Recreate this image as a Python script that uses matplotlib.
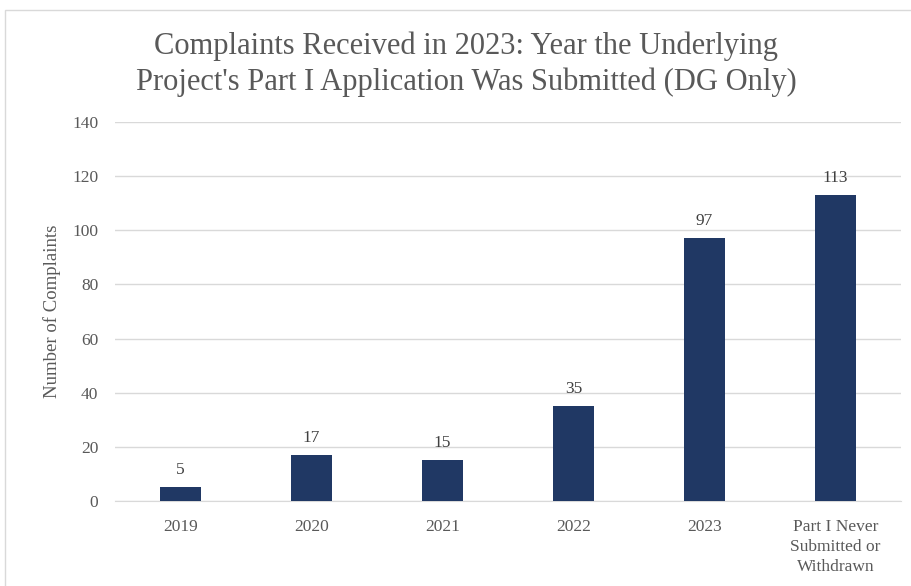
import matplotlib.pyplot as plt
from matplotlib.patches import Rectangle

plt.rcParams['font.family'] = ['Liberation Serif', 'DejaVu Serif']

categories = ['2019', '2020', '2021', '2022', '2023', 'Part I Never\nSubmitted or\nWithdrawn']
complaints = [5, 17, 15, 35, 97, 113]

txt = '#595959'
fig = plt.figure(figsize=(9.11, 5.86), dpi=100)
ax = fig.add_axes([115/911, 1 - 501/586, 786/911, (501 - 122)/586])

x = range(len(categories))
bars = ax.bar(x, complaints, width=0.32, color='#203864', zorder=3)
for xi, v in zip(x, complaints):
    ax.text(xi, v + 3.5, str(v), ha='center', va='bottom', fontsize=12.5, color='#404040')

ax.set_xlim(-0.5, len(categories) - 0.5)
ax.set_ylim(0, 140)
ax.set_yticks(range(0, 141, 20))
ax.set_xticks(list(x))
ax.set_xticklabels(categories, fontsize=12.5, color=txt, linespacing=1.35)
ax.tick_params(axis='y', labelsize=12.5, labelcolor=txt, length=0, pad=12)
ax.tick_params(axis='x', length=0, pad=13)
ax.grid(axis='y', color='#d9d9d9', linewidth=1, zorder=0)
for s in ['top', 'right', 'left']:
    ax.spines[s].set_visible(False)
ax.spines['bottom'].set_color('#d9d9d9')
ax.set_ylabel('Number of Complaints', fontsize=13.5, color=txt, labelpad=8)

fig.text(0.512, 0.946, "Complaints Received in 2023: Year the Underlying\nProject's Part I Application Was Submitted (DG Only)",
         ha='center', va='top', fontsize=22, color=txt, linespacing=1.3)

# outer chart frame
fig.patches.append(Rectangle((5/911, -0.05), 1.1, 1 - 10/586 + 0.05, transform=fig.transFigure,
                             fill=False, edgecolor='#d9d9d9', linewidth=1))

fig.savefig('out.png', dpi=100)
